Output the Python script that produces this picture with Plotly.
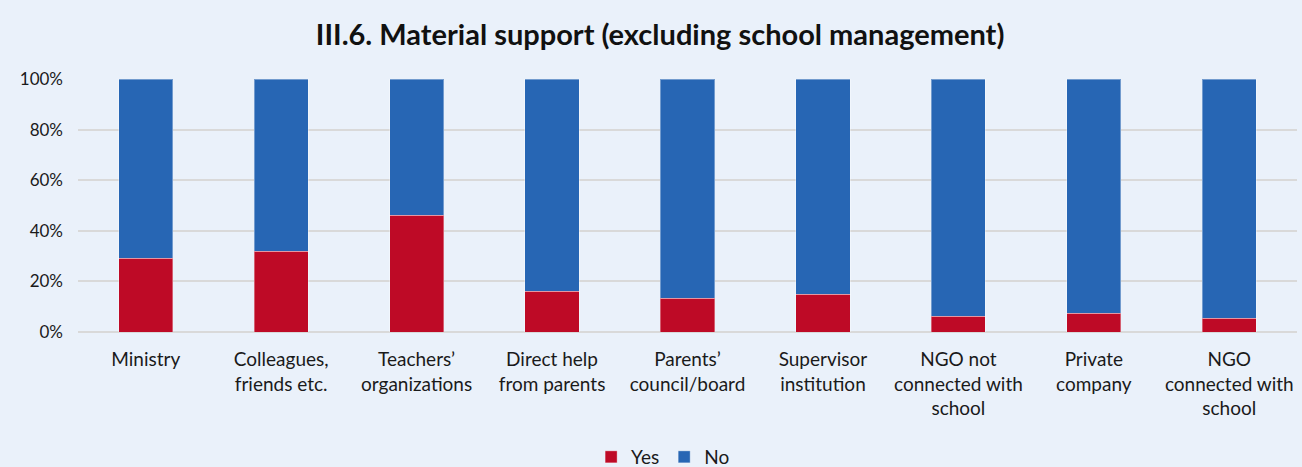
import plotly.graph_objects as go

categories = [
    "Ministry",
    "Colleagues,<br>friends etc.",
    "Teachers’<br>organizations",
    "Direct help<br>from parents",
    "Parents’<br>council/board",
    "Supervisor<br>institution",
    "NGO not<br>connected with<br>school",
    "Private<br>company",
    "NGO<br>connected with<br>school",
]
yes_share = [29.2, 32.0, 46.2, 16.2, 13.3, 14.9, 6.3, 7.4, 5.4]
no_share = [round(100 - v, 1) for v in yes_share]
y_ticks = [0, 20, 40, 60, 80, 100]
y_tick_labels = ["0%", "20%", "40%", "60%", "80%", "100%"]

BG = "#EAF1FA"
FONT = "Lato, 'Open Sans', sans-serif"
W, H = 1302, 467

fig = go.Figure()
fig.add_trace(go.Bar(
    name="Yes", x=categories, y=yes_share,
    marker=dict(color="#BE0A26", line=dict(color="rgba(255,255,255,0.35)", width=1)),
    hoverinfo="x+y",
))
fig.add_trace(go.Bar(
    name="No", x=categories, y=no_share,
    marker=dict(color="#2766B4", line=dict(color="rgba(255,255,255,0.35)", width=1)),
    hoverinfo="x+y",
))

fig.update_layout(
    width=W, height=H,
    barmode="stack",
    bargap=0.6,
    paper_bgcolor=BG,
    plot_bgcolor=BG,
    margin=dict(l=78, r=5, t=79, b=135, autoexpand=False),
    font=dict(family=FONT, size=19, color="#1A1A1A"),
    title=dict(
        text="<b>III.6. Material support (excluding school management)</b>",
        x=0.507, xanchor="center", y=1 - 35 / H, yanchor="middle",
        font=dict(family=FONT, size=29, color="#111111"),
    ),
    xaxis=dict(
        showgrid=False, showline=False, ticks="",
        tickfont=dict(size=19, color="#1A1A1A"),
        ticklabelstandoff=14,
    ),
    yaxis=dict(
        range=[0, 100],
        tickvals=y_ticks, ticktext=y_tick_labels,
        showgrid=True, gridcolor="#D9D9D9", gridwidth=1.5,
        zeroline=True, zerolinecolor="#D9D9D9", zerolinewidth=1.5,
        showline=False, ticks="", ticklen=0,
        tickfont=dict(size=17, color="#1A1A1A"),
        ticklabelstandoff=14,
    ),
    legend=dict(
        orientation="h", x=0.48, xanchor="center",
        y=-(457 - 332) / (332 - 79), yanchor="middle",
        font=dict(size=19, color="#1A1A1A"),
        itemwidth=30, traceorder="normal",
        bgcolor="rgba(0,0,0,0)",
    ),
)

fig.write_html("out.html")
